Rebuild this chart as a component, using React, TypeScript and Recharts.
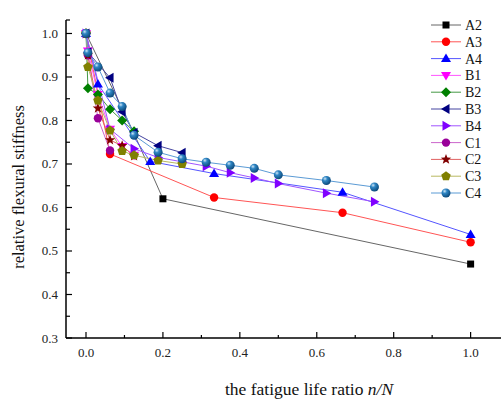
import React from 'react'
import { LineChart, Line, XAxis, YAxis } from 'recharts'

// n/N values and relative stiffness
const A2_X = [0, 0.125, 0.2, 1.0]
const A2_Y = [1.0, 0.77, 0.62, 0.47]
const A3_X = [0, 0.0625, 0.333, 0.667, 1.0]
const A3_Y = [1.0, 0.723, 0.623, 0.588, 0.52]
const A4_X = [0, 0.031, 0.167, 0.333, 0.667, 1.0]
const A4_Y = [1.0, 0.884, 0.706, 0.678, 0.635, 0.538]
const B1_X = [0, 0.005, 0.031, 0.0625, 0.094, 0.125]
const B1_Y = [1.0, 0.96, 0.86, 0.78, 0.74, 0.72]
const B2_X = [0, 0.005, 0.031, 0.0625, 0.094, 0.125]
const B2_Y = [1.0, 0.874, 0.86, 0.826, 0.8, 0.775]
const B3_X = [0, 0.005, 0.0625, 0.094, 0.125, 0.1875, 0.25]
const B3_Y = [1.0, 0.957, 0.898, 0.82, 0.772, 0.742, 0.726]
const B4_X = [0, 0.0625, 0.125, 0.1875, 0.25, 0.3125, 0.375, 0.4375, 0.5, 0.625, 0.75]
const B4_Y = [1.0, 0.78, 0.735, 0.715, 0.705, 0.695, 0.68, 0.668, 0.655, 0.633, 0.613]
const C1_X = [0, 0.005, 0.031, 0.0625]
const C1_Y = [1.0, 0.95, 0.805, 0.731]
const C2_X = [0, 0.005, 0.031, 0.0625, 0.094, 0.125]
const C2_Y = [1.0, 0.95, 0.828, 0.755, 0.742, 0.718]
const C3_X = [0, 0.005, 0.031, 0.0625, 0.094, 0.125, 0.1875, 0.25]
const C3_Y = [1.0, 0.923, 0.846, 0.777, 0.73, 0.72, 0.708, 0.7]
const C4_X = [0, 0.005, 0.031, 0.0625, 0.094, 0.125, 0.1875, 0.25, 0.3125, 0.375, 0.4375, 0.5, 0.625, 0.75]
const C4_Y = [1.0, 0.956, 0.923, 0.863, 0.832, 0.766, 0.727, 0.712, 0.704, 0.697, 0.69, 0.675, 0.662, 0.647]

const X_TICKS = [0, 0.1, 0.2, 0.3, 0.4, 0.5, 0.6, 0.7, 0.8, 0.9, 1.0]
const Y_TICKS = [0.3, 0.35, 0.4, 0.45, 0.5, 0.55, 0.6, 0.65, 0.7, 0.75, 0.8, 0.85, 0.9, 0.95, 1.0]

const FONT = '"Liberation Serif", "Times New Roman", serif'

const zip = (xs: number[], ys: number[]) => xs.map((x, i) => ({ x, y: ys[i] }))

const SERIES = [
    { name: 'A2', data: zip(A2_X, A2_Y), color: '#000000', line: '#666666', shape: 'square' },
    { name: 'A3', data: zip(A3_X, A3_Y), color: '#ff0000', line: '#ff5555', shape: 'circle' },
    { name: 'A4', data: zip(A4_X, A4_Y), color: '#0000ff', line: '#5555ff', shape: 'up' },
    { name: 'B1', data: zip(B1_X, B1_Y), color: '#ff00ff', line: '#ff55ff', shape: 'down' },
    { name: 'B2', data: zip(B2_X, B2_Y), color: '#008000', line: '#449944', shape: 'diamond' },
    { name: 'B3', data: zip(B3_X, B3_Y), color: '#000080', line: '#4444a0', shape: 'left' },
    { name: 'B4', data: zip(B4_X, B4_Y), color: '#8000ff', line: '#a055ff', shape: 'right' },
    { name: 'C1', data: zip(C1_X, C1_Y), color: '#990099', line: '#cc66cc', shape: 'circle' },
    { name: 'C2', data: zip(C2_X, C2_Y), color: '#800000', line: '#e06060', shape: 'star' },
    { name: 'C3', data: zip(C3_X, C3_Y), color: '#808000', line: '#b8b860', shape: 'pentagon' },
    { name: 'C4', data: zip(C4_X, C4_Y), color: 'url(#sphere)', line: '#5b9bd5', shape: 'sphere' },
]

function Marker({ cx, cy, shape, color }: { cx: number, cy: number, shape: string, color: string }) {
    if (cx == null || cy == null) return null
    const s = 4.5
    switch (shape) {
        case 'square':
            return <rect x={cx - 3.5} y={cy - 3.5} width={7} height={7} fill={color} />
        case 'circle':
            return <circle cx={cx} cy={cy} r={4.2} fill={color} />
        case 'sphere':
            return <circle cx={cx} cy={cy} r={4.5} fill={color} />
        case 'up':
            return <polygon points={`${cx},${cy - s - 0.5} ${cx - s - 0.5},${cy + s - 1} ${cx + s + 0.5},${cy + s - 1}`} fill={color} />
        case 'down':
            return <polygon points={`${cx},${cy + s + 0.5} ${cx - s - 0.5},${cy - s + 1} ${cx + s + 0.5},${cy - s + 1}`} fill={color} />
        case 'left':
            return <polygon points={`${cx - s - 0.5},${cy} ${cx + s - 1},${cy - s - 0.5} ${cx + s - 1},${cy + s + 0.5}`} fill={color} />
        case 'right':
            return <polygon points={`${cx + s + 0.5},${cy} ${cx - s + 1},${cy - s - 0.5} ${cx - s + 1},${cy + s + 0.5}`} fill={color} />
        case 'diamond':
            return <polygon points={`${cx},${cy - 5} ${cx + 5},${cy} ${cx},${cy + 5} ${cx - 5},${cy}`} fill={color} />
        case 'star': {
            const pts: string[] = []
            for (let i = 0; i < 10; i++) {
                const r = i % 2 === 0 ? 5.5 : 2.3
                const a = -Math.PI / 2 + (i * Math.PI) / 5
                pts.push(`${cx + r * Math.cos(a)},${cy + r * Math.sin(a)}`)
            }
            return <polygon points={pts.join(' ')} fill={color} />
        }
        case 'pentagon': {
            const pts: string[] = []
            for (let i = 0; i < 5; i++) {
                const a = -Math.PI / 2 + (i * 2 * Math.PI) / 5
                pts.push(`${cx + 5 * Math.cos(a)},${cy + 5 * Math.sin(a)}`)
            }
            return <polygon points={pts.join(' ')} fill={color} />
        }
    }
    return null
}

const XTick = ({ x, y, payload }: any) => {
    const major = Math.round(payload.value * 10) % 2 === 0
    return (
        <g>
            <line x1={x} x2={x} y1={y} y2={y - (major ? 6 : 3)} stroke="#000" strokeWidth={1.2} />
            {major && (
                <text x={x} y={y + 19} textAnchor="middle" fontSize={13} fontFamily={FONT} fill="#222">
                    {payload.value.toFixed(1)}
                </text>
            )}
        </g>
    )
}

const YTick = ({ x, y, payload }: any) => {
    const v = Number(payload.value)
    const major = Math.abs(v * 10 - Math.round(v * 10)) < 0.001
    return (
        <g>
            <line x1={x} x2={x + (major ? 6 : 4)} y1={y} y2={y} stroke="#000" strokeWidth={1.2} />
            {major && (
                <text x={x - 8} y={y + 4.5} textAnchor="end" fontSize={13} fontFamily={FONT} fill="#222">
                    {v.toFixed(1)}
                </text>
            )}
        </g>
    )
}

const LegendBox = () => (
    <svg width={75} height={185} style={{ display: 'block' }}>
        <defs>
            <radialGradient id="sphereLg" cx="35%" cy="30%" r="70%">
                <stop offset="0%" stopColor="#cfe6f7" />
                <stop offset="35%" stopColor="#2f86c4" />
                <stop offset="100%" stopColor="#0c4a7c" />
            </radialGradient>
        </defs>
        {SERIES.map((s, i) => {
            const y = 10 + i * 16.8
            return (
                <g key={s.name}>
                    <line x1={6} x2={36} y1={y} y2={y} stroke={s.line} strokeWidth={1} />
                    <Marker cx={21} cy={y} shape={s.shape} color={s.shape === 'sphere' ? 'url(#sphereLg)' : s.color} />
                    <text x={40} y={y + 5} fontSize={14} fontFamily={FONT} fill="#111">{s.name}</text>
                </g>
            )
        })}
    </svg>
)

export default function App() {
    return (
        <div style={{ position: 'fixed', left: 0, top: 0, width: 501, height: 402, background: '#fff' }}>
            <LineChart width={501} height={402} margin={{ top: 20, right: 0, bottom: 0, left: 0 }}>
                <defs>
                    <radialGradient id="sphere" cx="35%" cy="30%" r="70%">
                        <stop offset="0%" stopColor="#cfe6f7" />
                        <stop offset="35%" stopColor="#2f86c4" />
                        <stop offset="100%" stopColor="#0c4a7c" />
                    </radialGradient>
                </defs>
                <XAxis
                    type="number"
                    dataKey="x"
                    domain={[-0.052, 1.079]}
                    ticks={X_TICKS}
                    interval={0}
                    tick={<XTick />}
                    tickLine={false}
                    tickSize={0}
                    tickMargin={0}
                    height={64}
                    axisLine={{ stroke: '#000', strokeWidth: 1.5 }}
                    allowDataOverflow
                    label={{
                        content: () => (
                            <text x={309} y={395} textAnchor="middle" fontSize={17.5} fontFamily={FONT} fill="#111">
                                the fatigue life ratio <tspan fontStyle="italic">n/N</tspan>
                            </text>
                        )
                    }}
                />
                <YAxis
                    type="number"
                    dataKey="y"
                    width={66}
                    domain={[0.3, 1.031]}
                    ticks={[...Y_TICKS, 1.031]}
                    interval={0}
                    tick={<YTick />}
                    tickLine={false}
                    tickSize={0}
                    tickMargin={0}
                    axisLine={{ stroke: '#000', strokeWidth: 1.5 }}
                    allowDataOverflow
                    label={{
                        content: () => (
                            <text
                                x={24}
                                y={187}
                                textAnchor="middle"
                                fontSize={16.5}
                                fontFamily={FONT}
                                fill="#111"
                                transform="rotate(-90 24 187)"
                            >
                                relative flexural stiffness
                            </text>
                        )
                    }}
                />
                {SERIES.map((s) => (
                    <Line
                        key={s.name}
                        data={s.data}
                        dataKey="y"
                        name={s.name}
                        type="linear"
                        stroke={s.line}
                        strokeWidth={1}
                        isAnimationActive={false}
                        dot={(p: any) => <Marker key={`${s.name}-${p.index}`} cx={p.cx} cy={p.cy} shape={s.shape} color={s.color} />}
                        activeDot={false}
                    />
                ))}
            </LineChart>
            <div style={{ position: 'absolute', left: 425, top: 15 }}>
                <LegendBox />
            </div>
        </div>
    )
}
